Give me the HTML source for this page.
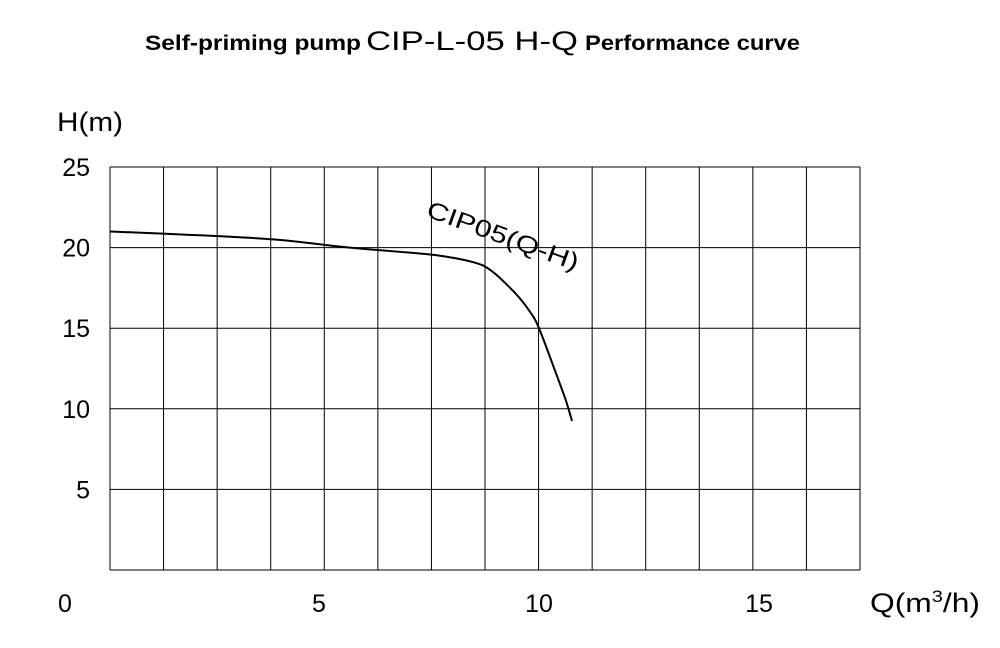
<!DOCTYPE html>
<html><head><meta charset="utf-8"><style>
html,body{margin:0;padding:0;background:#fff;}
svg{display:block;}
</style></head><body>
<svg id="chart" width="1000" height="648" xmlns="http://www.w3.org/2000/svg" font-family="'Liberation Sans', sans-serif">
<text y="50" font-size="21">
<tspan x="145" font-weight="bold" textLength="216" lengthAdjust="spacingAndGlyphs">Self-priming pump</tspan><tspan x="366" font-size="27" textLength="212" lengthAdjust="spacingAndGlyphs">CIP-L-05 H-Q</tspan><tspan x="585" font-weight="bold" textLength="215" lengthAdjust="spacingAndGlyphs">Performance curve</tspan>
</text>
<text x="57" y="131" font-size="27" textLength="66" lengthAdjust="spacingAndGlyphs">H(m)</text>
<text x="870" y="612" font-size="27" textLength="110" lengthAdjust="spacingAndGlyphs">Q(m<tspan dy="-10" font-size="17">3</tspan><tspan dy="10">/h)</tspan></text>
<g id="grid"></g>
<g id="ticks"></g>
<path id="curve" fill="none" stroke="#000" stroke-width="2"/>
<text x="425" y="216" font-size="24" transform="rotate(20 425 216)" textLength="160" lengthAdjust="spacingAndGlyphs">CIP05(Q-H)</text>
</svg>
<script>
const qValues=[0.25,2,4,5.7,7,7.75,8.5,8.9,9.45,9.8,10,10.36,10.6,10.75];
const hValues=[21.0,20.8,20.5,20.0,19.7,19.5,19.1,18.6,17.2,16.0,15.0,12.4,10.6,9.25];
const xTicks=[0,5,10,15];
const yTicks=[5,10,15,20,25];
const NS="http://www.w3.org/2000/svg";
const xs=q=>99+q*44;
const ys=h=>570-h*16.12;
const grid=document.getElementById('grid');
function line(x1,y1,x2,y2,name){
  const l=document.createElementNS(NS,'line');
  l.setAttribute('x1',x1);l.setAttribute('y1',y1);l.setAttribute('x2',x2);l.setAttribute('y2',y2);
  l.setAttribute('stroke','#000');l.setAttribute('stroke-width','1');
  
  
  grid.appendChild(l);
}
for(let i=0;i<=14;i++){const x=110+i*750/14;line(x,167,x,570,'grid-line-vertical');}
for(let i=0;i<=5;i++){const y=ys(i*5);line(110,y,860,y,'grid-line-horizontal');}
const ticks=document.getElementById('ticks');
function txt(x,y,s,anchor,name){
  const t=document.createElementNS(NS,'text');
  t.setAttribute('x',x);t.setAttribute('y',y);t.setAttribute('font-size','25');t.setAttribute('text-anchor',anchor);
  t.textContent=s;
  
  
  ticks.appendChild(t);
}
xTicks.forEach(v=>txt(v===0?65:xs(v),612,String(v),'middle','x-tick-label'));
yTicks.forEach(v=>txt(90,ys(v)+9,String(v),'end','y-tick-label'));
const P=qValues.map((q,i)=>[xs(q),ys(hValues[i])]);
let d='M'+P[0][0].toFixed(1)+' '+P[0][1].toFixed(1);
for(let i=0;i<P.length-1;i++){
  const p0=P[i-1]||P[i],p1=P[i],p2=P[i+1],p3=P[i+2]||p2;
  const c1=[p1[0]+(p2[0]-p0[0])/6,p1[1]+(p2[1]-p0[1])/6];
  const c2=[p2[0]-(p3[0]-p1[0])/6,p2[1]-(p3[1]-p1[1])/6];
  d+='C'+c1.map(v=>v.toFixed(1)).join(' ')+' '+c2.map(v=>v.toFixed(1)).join(' ')+' '+p2.map(v=>v.toFixed(1)).join(' ');
}
document.getElementById('curve').setAttribute('d',d);
</script>
</body></html>
